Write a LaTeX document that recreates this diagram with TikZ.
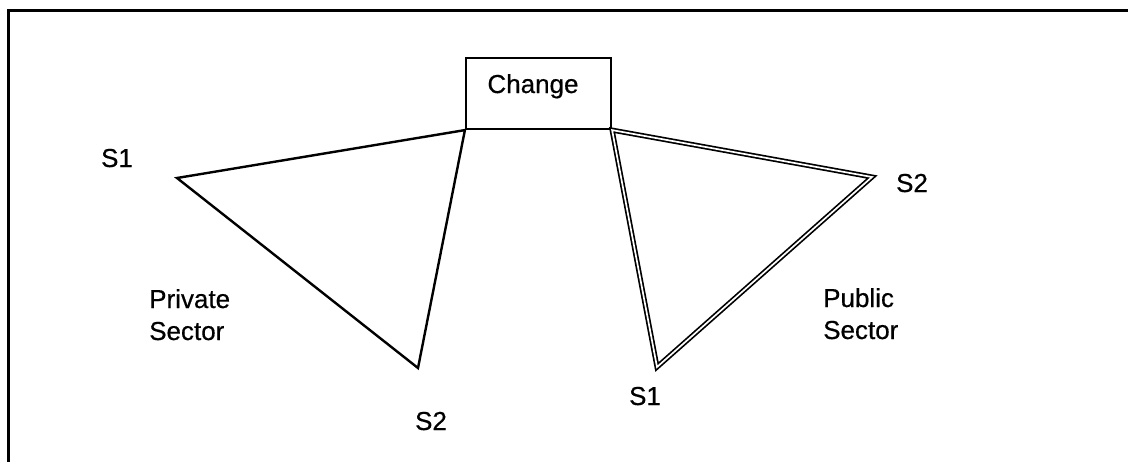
\documentclass[tikz,border=0pt]{standalone}
\usepackage{fontspec}
\setmainfont{Liberation Sans}[UprightFeatures={FakeBold=0.5}]
\begin{document}
\begin{tikzpicture}[x=1pt,y=-1pt,
  lbl/.style={inner sep=0pt, font=\fontsize{26}{32}\selectfont},
  edge/.style={line width=2.4pt, line join=miter},
  dbl/.style={double, double distance=1.7pt, line width=1.7pt, line join=miter},
  frame/.style={line width=3pt},
  box/.style={draw, line width=2.2pt, minimum width=145pt, minimum height=71pt, inner sep=0pt}]
\useasboundingbox (0,0) rectangle (1128,461);
% frame (only top and left edges visible)
\coordinate (ftl) at (8,10);
\coordinate (ftr) at (1130,10);
\coordinate (fbl) at (8,463);
\draw[frame] (ftr) -- (ftl) -- (fbl);
% change box
\node[box] (chg) at (538.5,93.5) {};
\node[lbl, anchor=base] (chgt) at (533,93) {Change};
% left (private) triangle
\coordinate (lS1) at (177,178);
\coordinate (lS2) at (418,368);
\draw[edge] (chg.south west) -- (lS1) -- (lS2) -- cycle;
% right (public) triangle
\coordinate (rS2) at (872,177);
\coordinate (rS1) at (657,367);
\draw[dbl] (chg.south east) -- (rS2) -- (rS1) -- cycle;
% labels
\node[lbl, anchor=base] (tlS1) at (117,167) {S1};
\node[lbl, anchor=base] (tlS2) at (431,430) {S2};
\node[lbl, anchor=base] (trS1) at (645,405) {S1};
\node[lbl, anchor=base] (trS2) at (912,192) {S2};
\node[lbl, anchor=base west, align=left] (priv) at (149,340) {Private\\Sector};
\node[lbl, anchor=base west, align=left] (pub) at (823,339) {Public\\Sector};
\end{tikzpicture}
\end{document}
